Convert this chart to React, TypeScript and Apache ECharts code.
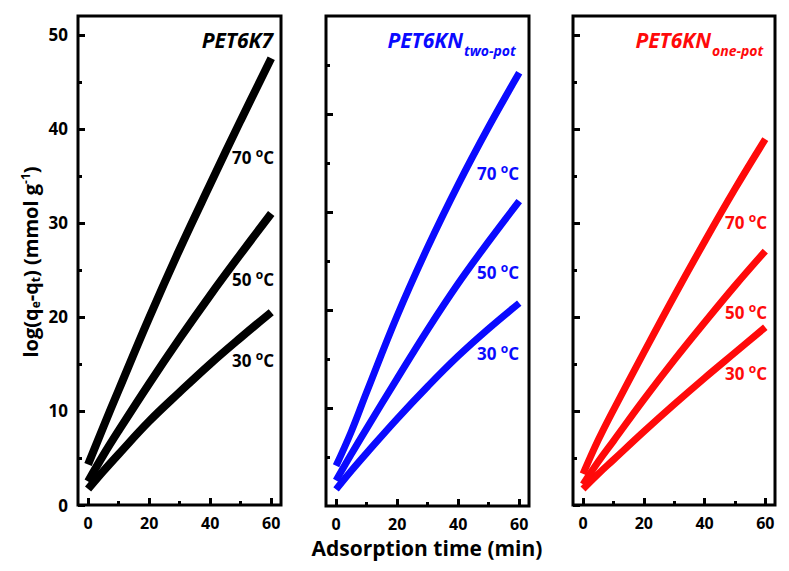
import React, { useEffect, useRef } from "react";
import * as echarts from "echarts";

const timeMin = [0, 5, 10, 20, 30, 40, 50, 60];

const k7_30 = [1.7, 3.6, 5.4, 8.9, 12.0, 15.0, 17.8, 20.5];
const k7_50 = [2.5, 5.3, 7.9, 12.9, 17.7, 22.3, 26.7, 31.0];
const k7_70 = [4.3, 8.3, 12.2, 19.9, 27.2, 34.1, 40.9, 47.5];

const tp_30 = [1.7, 3.6, 5.4, 8.9, 12.2, 15.3, 18.1, 20.7];
const tp_50 = [2.6, 5.3, 7.9, 13.0, 18.0, 22.7, 27.0, 31.1];
const tp_70 = [4.1, 7.6, 11.6, 19.4, 26.4, 32.8, 38.7, 44.2];

const op_30 = [1.7, 3.3, 4.8, 7.8, 10.7, 13.5, 16.2, 18.9];
const op_50 = [2.2, 4.6, 6.8, 11.2, 15.4, 19.4, 23.3, 27.0];
const op_70 = [3.3, 6.9, 10.1, 16.2, 22.2, 28.0, 33.6, 38.9];

const xMajor = [0, 20, 40, 60];
const xMinor = [10, 30, 50];
const yMajor = [0, 10, 20, 30, 40, 50];
const yMinor = [5, 15, 25, 35, 45];
const tempLabels = ["30", "50", "70"];

const FONT = "'Open Sans', 'Noto Sans', sans-serif";

const pair = (vals: number[]) => timeMin.map((t, i) => [t, vals[i]]);

export default function App() {
  const ref = useRef<HTMLDivElement>(null);
  useEffect(() => {
    if (!ref.current) return;
    const chart = echarts.init(ref.current, null, { renderer: "svg" });

    const grids = [
      { left: 78, top: 16, width: 203, height: 489 },
      { left: 326, top: 16, width: 203, height: 490 },
      { left: 573, top: 16, width: 202, height: 489 },
    ];
    const yMax = [52, 50, 52];

    const xAxis: any[] = [];
    const yAxis: any[] = [];
    grids.forEach((_, i) => {
      const baseX = {
        gridIndex: i,
        type: "value",
        min: -3.3,
        max: 63.2,
        position: "bottom",
        axisLine: { show: false, onZero: false },
        splitLine: { show: false },
      };
      xAxis.push({
        ...baseX,
        axisTick: { inside: true, length: 7, customValues: xMajor, lineStyle: { color: "#000", width: 3 } },
        axisLabel: { customValues: xMajor, fontSize: 16, fontWeight: "bold", color: "#000", margin: 10, fontFamily: FONT },
      });
      xAxis.push({
        ...baseX,
        axisTick: { inside: true, length: 4, customValues: xMinor, lineStyle: { color: "#000", width: 3 } },
        axisLabel: { show: false },
      });
      const baseY = {
        gridIndex: i,
        type: "value",
        min: 0,
        max: yMax[i],
        position: "left",
        axisLine: { show: false, onZero: false },
        splitLine: { show: false },
      };
      const majors = i === 1 ? yMajor.filter((v) => v > 0 && v < 50) : yMajor;
      yAxis.push({
        ...baseY,
        axisTick: { inside: true, length: 7, customValues: majors, lineStyle: { color: "#000", width: 3 } },
        axisLabel: i === 0
          ? { customValues: yMajor, fontSize: 17, fontWeight: "bold", color: "#000", margin: 10, fontFamily: FONT }
          : { show: false },
      });
      yAxis.push({
        ...baseY,
        axisTick: { inside: true, length: 4, customValues: yMinor, lineStyle: { color: "#000", width: 3 } },
        axisLabel: { show: false },
      });
    });

    const panels = [
      { color: "#000000", data: [k7_30, k7_50, k7_70], width: 8 },
      { color: "#0a0aff", data: [tp_30, tp_50, tp_70], width: 7 },
      { color: "#ff0a0a", data: [op_30, op_50, op_70], width: 7 },
    ];
    const series: any[] = [];
    panels.forEach((p, i) => {
      p.data.forEach((vals, j) => {
        series.push({
          type: "line",
          name: `${tempLabels[j]}-${i}`,
          xAxisIndex: 2 * i,
          yAxisIndex: 2 * i,
          data: pair(vals),
          showSymbol: false,
          smooth: 0.4,
          lineStyle: { color: p.color, width: p.width, cap: "butt" },
          silent: true,
        });
      });
    });

    const labelPos = [
      { x: 232, ys: [360, 279, 157], color: "#000" },
      { x: 477, ys: [353, 272, 173], color: "#0a0aff" },
      { x: 725, ys: [373, 312, 222], color: "#ff0a0a" },
    ];
    const graphic: any[] = [];
    labelPos.forEach((lp) => {
      lp.ys.forEach((y, j) => {
        graphic.push({
          type: "text",
          x: lp.x,
          y: y,
          style: {
            text: `${tempLabels[j]} {s|o}C`,
            fill: lp.color,
            font: `bold 17px ${FONT}`,
            textVerticalAlign: "middle",
            rich: {
              s: { fontSize: 12, fontWeight: "bold", fill: lp.color, fontFamily: FONT, padding: [0, 0, 10, 0] },
            },
          },
        });
      });
    });

    graphic.push({
      type: "text",
      x: 273,
      y: 40,
      style: { text: "PET6K7", fill: "#000", font: `italic bold 21px ${FONT}`, textAlign: "right", textVerticalAlign: "middle" },
    });
    graphic.push({
      type: "text",
      x: 463,
      y: 40,
      style: { text: "PET6KN", fill: "#0a0aff", font: `italic bold 21px ${FONT}`, textAlign: "right", textVerticalAlign: "middle" },
    });
    graphic.push({
      type: "text",
      x: 464,
      y: 50,
      style: { text: "two-pot", fill: "#0a0aff", font: `italic bold 14px ${FONT}`, textAlign: "left", textVerticalAlign: "middle" },
    });
    graphic.push({
      type: "text",
      x: 711,
      y: 40,
      style: { text: "PET6KN", fill: "#ff0a0a", font: `italic bold 21px ${FONT}`, textAlign: "right", textVerticalAlign: "middle" },
    });
    graphic.push({
      type: "text",
      x: 712,
      y: 50,
      style: { text: "one-pot", fill: "#ff0a0a", font: `italic bold 14px ${FONT}`, textAlign: "left", textVerticalAlign: "middle" },
    });
    graphic.push({
      type: "text",
      x: 427,
      y: 548,
      style: { text: "Adsorption time (min)", fill: "#000", font: `bold 21px ${FONT}`, textAlign: "center", textVerticalAlign: "middle" },
    });
    graphic.push({
      type: "text",
      x: 30,
      y: 262,
      rotation: Math.PI / 2,
      style: {
        text: "log(q{sub|e}-q{sub|t}) (mmol g{sup|-1})",
        fill: "#000",
        font: `bold 20px ${FONT}`,
        textAlign: "center",
        textVerticalAlign: "middle",
        rich: {
          sub: { fontSize: 12, fontWeight: "bold", fill: "#000", fontFamily: FONT, padding: [10, 0, 0, 0] },
          sup: { fontSize: 12, fontWeight: "bold", fill: "#000", fontFamily: FONT, padding: [0, 0, 10, 0] },
        },
      },
    });

    chart.setOption({
      animation: false,
      backgroundColor: "#fff",
      grid: grids.map((g) => ({ ...g, show: true, borderColor: "#000", borderWidth: 3, backgroundColor: "transparent" })),
      xAxis,
      yAxis,
      series,
      graphic,
    });
    return () => chart.dispose();
  }, []);
  return <div ref={ref} style={{ position: "fixed", left: 0, top: 0, width: 789, height: 571 }} />;
}
